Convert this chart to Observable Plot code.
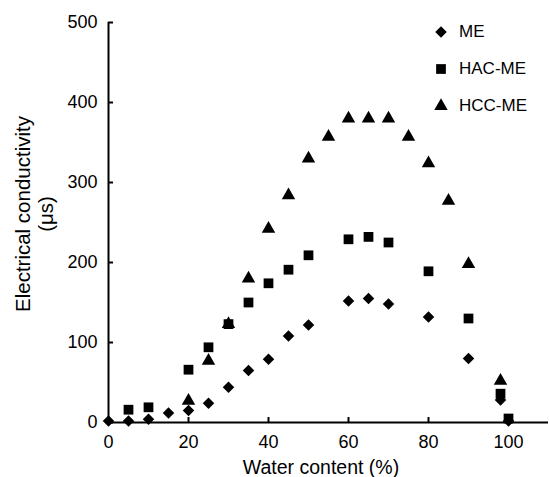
<!DOCTYPE html>
<html>
<head>
<meta charset="utf-8">
<script src="https://cdn.jsdelivr.net/npm/d3@7"></script>
<script src="https://cdn.jsdelivr.net/npm/@observablehq/plot@0.6"></script>
<style>
  html, body { margin: 0; padding: 0; background: #fff; }
  #wrap { position: relative; width: 549px; height: 477px; font-family: Arial, "Liberation Sans", sans-serif; }
  #legend { position: absolute; left: 431px; top: 22px; font-size: 17px; }
  #legend .row { display: flex; align-items: center; height: 20px; margin-bottom: 17px; }
  #legend svg { width: 20px; height: 20px; margin-right: 8px; }
</style>
</head>
<body>
<div id="wrap"><div id="legend"></div></div>
<script>
const seriesNames = ["ME", "HAC-ME", "HCC-ME"];
const seriesSymbols = ["diamond2", "square", "triangle"];

const meX = [0, 5, 10, 15, 20, 25, 30, 35, 40, 45, 50, 60, 65, 70, 80, 90, 98, 100];
const meY = [2, 2, 4, 12, 15, 24, 44, 65, 79, 108, 122, 152, 155, 148, 132, 80, 28, 2];

const hacX = [5, 10, 20, 25, 30, 35, 40, 45, 50, 60, 65, 70, 80, 90, 98, 100];
const hacY = [16, 19, 66, 94, 123, 150, 174, 191, 209, 229, 232, 225, 189, 130, 36, 5];

const hccX = [20, 25, 30, 35, 40, 45, 50, 55, 60, 65, 70, 75, 80, 85, 90, 98];
const hccY = [27, 77, 123, 180, 242, 284, 330, 357, 380, 380, 380, 357, 324, 277, 198, 52];

const xTicks = [0, 20, 40, 60, 80, 100];
const yTicks = [0, 100, 200, 300, 400, 500];

const toRows = (xs, ys, s) => xs.map((x, i) => ({x, y: ys[i], s}));
const me = toRows(meX, meY, seriesNames[0]);
const hac = toRows(hacX, hacY, seriesNames[1]);
const hcc = toRows(hccX, hccY, seriesNames[2]);

const radii = [5.2, 5.5, 5.0];

const plot = Plot.plot({
  width: 549,
  height: 477,
  marginLeft: 108,
  marginRight: 1,
  marginTop: 22,
  marginBottom: 55,
  style: {fontFamily: 'Arial, "Liberation Sans", sans-serif', fontSize: "18px", color: "#000", background: "#fff"},
  x: {domain: [0, 110]},
  y: {domain: [0, 500]},
  marks: [
    Plot.axisX({ticks: xTicks, tickSize: -5, tickPadding: 18, label: null, strokeWidth: 2, fontSize: 18}),
    Plot.axisY({ticks: yTicks, tickSize: -5, tickPadding: 16, label: null, strokeWidth: 2, fontSize: 18}),
    Plot.ruleY([0], {stroke: "#000", strokeWidth: 2}),
    Plot.ruleX([0], {stroke: "#000", strokeWidth: 2}),
    Plot.dot(me, {x: "x", y: "y", symbol: seriesSymbols[0], r: radii[0], fill: "#000", stroke: null}),
    Plot.dot(hac, {x: "x", y: "y", symbol: seriesSymbols[1], r: radii[1], fill: "#000", stroke: null}),
    Plot.dot(hcc, {x: "x", y: "y", symbol: seriesSymbols[2], r: radii[2], fill: "#000", stroke: null})
  ]
});

const svg = d3.select(plot);
svg.append("text")
  .attr("x", 321).attr("y", 474)
  .attr("text-anchor", "middle")
  .attr("font-size", 19.5)
  .text("Water content (%)");
const yl = svg.append("text")
  .attr("transform", "translate(30,214) rotate(-90)")
  .attr("text-anchor", "middle")
  .attr("font-size", 20.5);
yl.append("tspan").attr("x", 0).attr("dy", 0).text("Electrical conductivity");
yl.append("tspan").attr("x", 0).attr("dy", 23).text("(μs)");

document.getElementById("wrap").prepend(plot);

const symTypes = {diamond2: d3.symbolDiamond2, square: d3.symbolSquare, triangle: d3.symbolTriangle};
const legend = d3.select("#legend");
seriesNames.forEach((name, i) => {
  const row = legend.append("div").attr("class", "row");
  const s = row.append("svg");
  s.append("path")
    .attr("transform", "translate(10,10)")
    .attr("d", d3.symbol(symTypes[seriesSymbols[i]], Math.PI * radii[i] * radii[i])())
    .attr("fill", "#000");
  row.append("span").text(name);
});
</script>
</body>
</html>
